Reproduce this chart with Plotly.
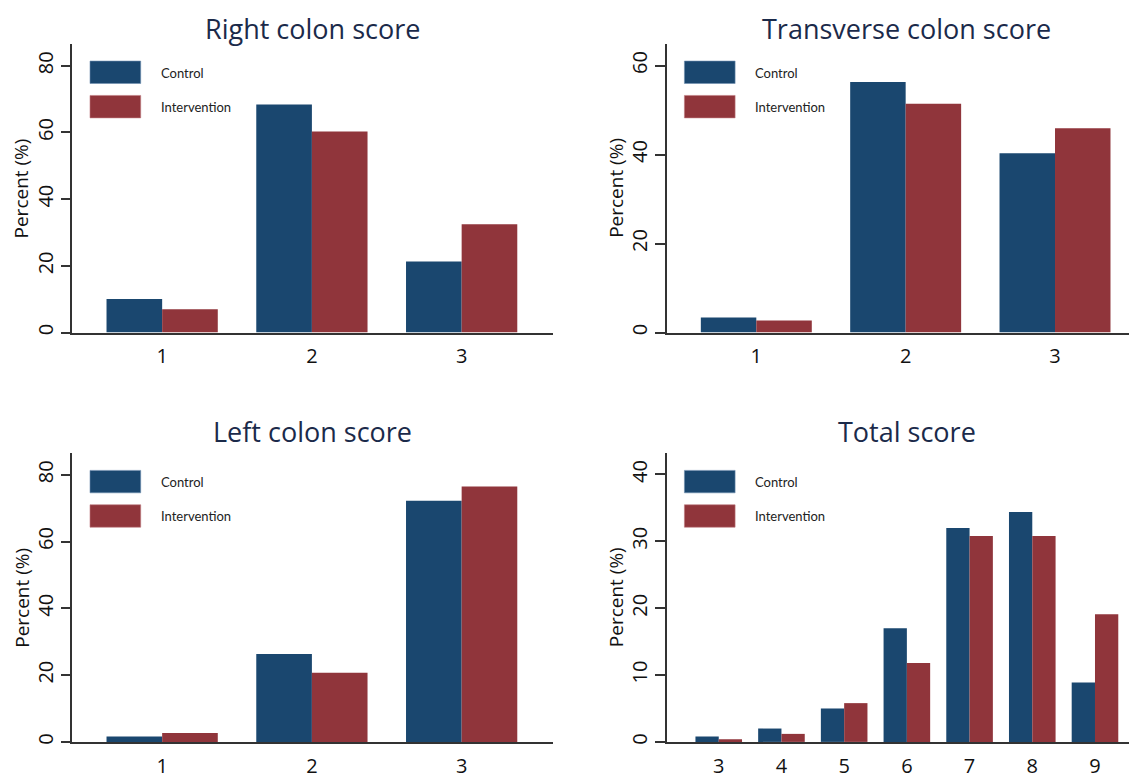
import plotly.graph_objects as go

# page body has an 8px margin, so the figure is drawn 8px in from the window corner
OFF = 8
W, H = 1137 - OFF, 779 - OFF

# ---------------- data ----------------
series_names = ["Control", "Intervention"]
panel_titles = ["Right colon score", "Transverse colon score", "Left colon score", "Total score"]

right_cats = ["1", "2", "3"]
right_control = [10.1, 68.4, 21.3]
right_interv = [7.0, 60.3, 32.5]

trans_cats = ["1", "2", "3"]
trans_control = [3.4, 56.3, 40.3]
trans_interv = [2.7, 51.4, 45.9]

left_cats = ["1", "2", "3"]
left_control = [1.6, 26.3, 72.2]
left_interv = [2.7, 20.7, 76.5]

total_cats = ["3", "4", "5", "6", "7", "8", "9"]
total_control = [0.8, 2.0, 5.0, 17.0, 32.0, 34.4, 8.9]
total_interv = [0.4, 1.2, 5.8, 11.8, 30.8, 30.8, 19.1]

y_ticks_main = [0, 20, 40, 60, 80]
y_ticks_trans = [0, 20, 40, 60]
y_ticks_total = [0, 10, 20, 30, 40]

# ---------------- style ----------------
NAVY = "#1a476f"
MAROON = "#90353b"
TITLE_COLOR = "#1b2a4a"
AXIS_COLOR = "#333333"
FONT = "Open Sans"


def px(x):
    return (x - OFF) / W


def py(y):
    return 1 - (y - OFF) / H


# panel geometry in window pixels: left, right, top, bottom(zero line), category-index x range
panels = [
    dict(cats=right_cats, c=right_control, i=right_interv, l=72.3, r=553, t=44, b=334.7,
         xr=[-0.6, 2.61], yr=[0, 86.6], ticks=y_ticks_main, mid=312.5),
    dict(cats=trans_cats, c=trans_control, i=trans_interv, l=666.7, r=1137, t=44, b=334.7,
         xr=[-0.6, 2.549], yr=[0, 64.9], ticks=y_ticks_trans, mid=906.5),
    dict(cats=left_cats, c=left_control, i=left_interv, l=72.3, r=553, t=456, b=746.7,
         xr=[-0.6, 2.61], yr=[0, 86.5], ticks=y_ticks_main, mid=312.5),
    dict(cats=total_cats, c=total_control, i=total_interv, l=666.7, r=1137, t=456, b=746.7,
         xr=[-0.83, 6.67], yr=[0, 43.2], ticks=y_ticks_total, mid=906.5),
]

fig = go.Figure()
layout = dict(
    width=W, height=H, margin=dict(l=0, r=0, t=0, b=0),
    paper_bgcolor="white", plot_bgcolor="white",
    barmode="group", bargap=0.257, bargroupgap=0,
    showlegend=False, font=dict(family=FONT, color="#111111"),
)
annotations = []
shapes = []

for k, p in enumerate(panels):
    n = "" if k == 0 else str(k + 1)
    xa, ya = "x" + n, "y" + n
    fig.add_trace(go.Bar(x=p["cats"], y=p["c"], name=series_names[0],
                         marker=dict(color=NAVY, line=dict(width=0)),
                         xaxis=xa, yaxis=ya, offsetgroup="c"))
    fig.add_trace(go.Bar(x=p["cats"], y=p["i"], name=series_names[1],
                         marker=dict(color=MAROON, line=dict(width=0)),
                         xaxis=xa, yaxis=ya, offsetgroup="i"))
    layout["xaxis" + n] = dict(
        domain=[px(p["l"]), min(px(p["r"]), 1.0)], anchor=ya, type="category",
        range=p["xr"], showline=True, linecolor=AXIS_COLOR, linewidth=1.5,
        ticks="", showgrid=False, zeroline=False, ticklabelstandoff=5,
        tickfont=dict(size=20, family=FONT, color="#111111"),
    )
    layout["yaxis" + n] = dict(
        domain=[py(p["b"]), py(p["t"])], anchor=xa,
        range=p["yr"], tickvals=p["ticks"], showline=True, linecolor=AXIS_COLOR, linewidth=1.5,
        ticks="outside", ticklen=10, tickwidth=1.5, tickcolor=AXIS_COLOR,
        showgrid=False, zeroline=False, tickangle=-90,
        tickfont=dict(size=20, family=FONT, color="#111111"),
    )
    # panel title (top panels anchored at the figure top so the box stays inside)
    if p["t"] < 100:
        ty, yanc = 1.0, "top"
    else:
        ty, yanc = py(p["t"] - 22), "middle"
    annotations.append(dict(
        text=panel_titles[k], xref="paper", yref="paper",
        x=px(p["mid"]), y=ty, xanchor="center", yanchor=yanc,
        showarrow=False, font=dict(size=27, family=FONT, color=TITLE_COLOR)))
    # y axis title
    annotations.append(dict(
        text="Percent (%)", xref="paper", yref="paper", textangle=-90,
        x=px(p["l"] - 51), y=py((p["t"] + p["b"]) / 2), xanchor="center", yanchor="middle",
        showarrow=False, font=dict(size=19, family=FONT, color="#111111")))
    # legend (swatches + labels)
    for j, (name, col) in enumerate(zip(series_names, [NAVY, MAROON])):
        y0 = p["t"] + 17.4 + j * 34.6
        shapes.append(dict(type="rect", xref="paper", yref="paper",
                           x0=px(p["l"] + 17.7), x1=px(p["l"] + 68.4),
                           y0=py(y0 + 22.6), y1=py(y0),
                           fillcolor=col, line=dict(width=0.6, color="#6f8fb0" if j == 0 else "#c07a80")))
        annotations.append(dict(
            text=name, xref="paper", yref="paper",
            x=px(p["l"] + 86.5), y=py(y0 + 11.6), xanchor="left", yanchor="middle",
            showarrow=False, font=dict(size=13, family="Lato", color="#222222")))

layout["annotations"] = annotations
layout["shapes"] = shapes
fig.update_layout(**layout)
fig.write_html("out.html")
